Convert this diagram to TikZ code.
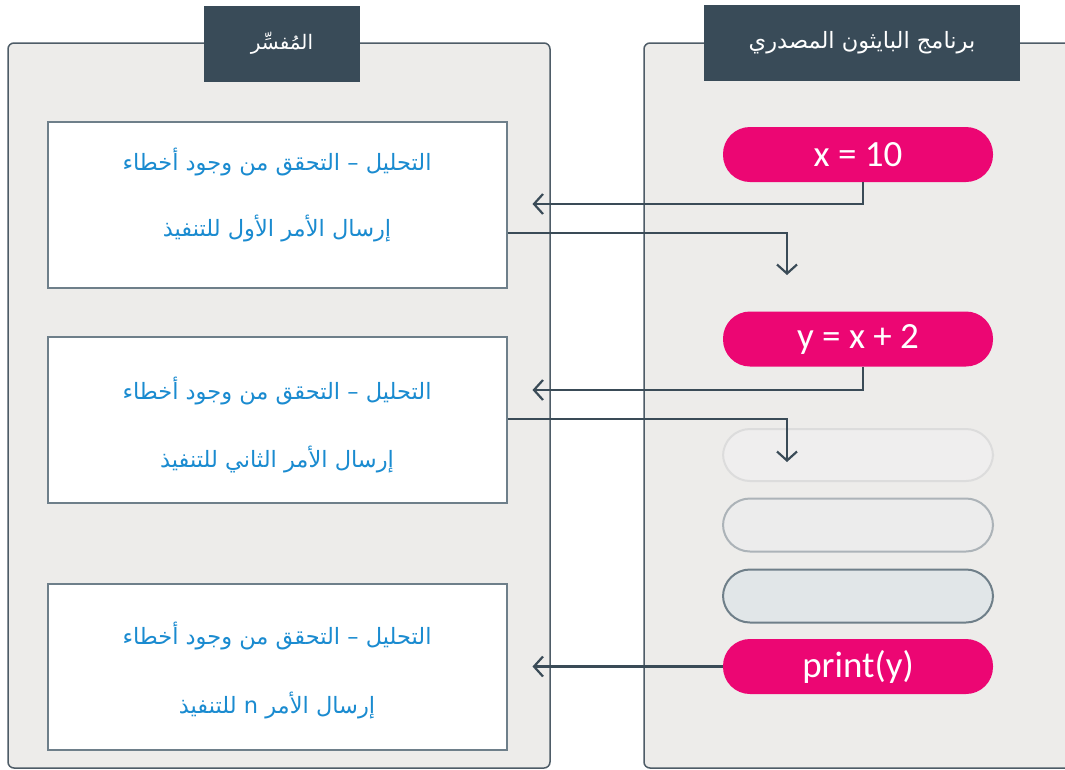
\documentclass[tikz,border=0pt]{standalone}
\usepackage{fontspec}
\setmainfont{Carlito}
\newfontfamily\arabicfont[Script=Arabic]{DejaVu Sans}
\TeXXeTstate=1
\usetikzlibrary{arrows.meta,calc}
\definecolor{slate}{HTML}{394B58}
\definecolor{panelfill}{HTML}{EDECEA}
\definecolor{panelline}{HTML}{4E5C67}
\definecolor{boxline}{HTML}{6E7F8A}
\definecolor{txtblue}{HTML}{1A8BD0}
\definecolor{magenta}{HTML}{EC0673}
\definecolor{connc}{HTML}{3A4B57}
\definecolor{g1fill}{HTML}{EFEEEE}
\definecolor{g1line}{HTML}{DCDCDC}
\definecolor{g2fill}{HTML}{ECECEC}
\definecolor{g2line}{HTML}{ACB3B8}
\definecolor{g3fill}{HTML}{E1E6E8}
\definecolor{g3line}{HTML}{6F7F89}
\tikzset{
  panel/.style={draw=panelline, fill=panelfill, line width=1.5pt, rounded corners=6pt},
  hdr/.style={fill=slate, text=white, inner sep=0pt, font=\arabicfont\fontsize{22.5}{26}\selectfont},
  txtbox/.style={draw=boxline, fill=white, line width=2pt, minimum width=459pt, minimum height=166pt, inner sep=0pt},
  atext/.style={text=txtblue, inner sep=0pt, font=\arabicfont\fontsize{22.5}{26}\selectfont},
  pill/.style={rounded corners=27pt, minimum width=270pt, minimum height=55pt, inner sep=0pt},
  codepill/.style={pill, fill=magenta, text=white, font=\fontsize{37}{40}\selectfont},
  conn/.style={draw=connc, line width=2.2pt, -{Straight Barb[length=9pt,width=20pt,line width=2.2pt]}},
}
\begin{document}
\begin{tikzpicture}[x=1pt,y=-1pt]
\useasboundingbox[fill=white] (0,0) rectangle (1065,769);
% panels
\draw[panel] (8,768) rectangle (550,43);
\draw[panel] (644,768) rectangle (1085,43);
% headers
\node[hdr, minimum width=156pt, minimum height=76pt, font=\arabicfont\fontsize{20}{24}\selectfont] (h1) at (282,43.5) {\beginR المُفسِّر\endR};
\node[hdr, minimum width=316pt, minimum height=76pt] (h2) at (862,43) {\beginR برنامج البايثون المصدري\endR};
% interpreter boxes
\node[txtbox] (b1) at (277,205) {};
\node[txtbox] (b2) at (277,420) {};
\node[txtbox] (b3) at (277,666.5) {};
\node[atext] (b1a) at (277,162) {\beginR التحليل – التحقق من وجود أخطاء\endR};
\node[atext] (b1b) at (277,229) {\beginR إرسال الأمر الأول للتنفيذ\endR};
\node[atext] (b2a) at (277,391) {\beginR التحليل – التحقق من وجود أخطاء\endR};
\node[atext] (b2b) at (277,459) {\beginR إرسال الأمر الثاني للتنفيذ\endR};
\node[atext] (b3a) at (277,636) {\beginR التحليل – التحقق من وجود أخطاء\endR};
\node[atext] (b3b) at (277,705) {\beginR إرسال الأمر \beginL n\endL{} للتنفيذ\endR};
% code pills
\node[codepill] (p1) at (858,154.5) {x = 10};
\node[codepill] (p2) at (858,339) {y = x + 2};
\node[pill, fill=g1fill, draw=g1line, line width=2pt, minimum height=52pt] (g1) at (858,455) {};
\node[pill, fill=g2fill, draw=g2line, line width=2pt, minimum height=53pt] (g2) at (858,525) {};
\node[pill, fill=g3fill, draw=g3line, line width=2pt, minimum height=53pt] (g3) at (858,596) {};
\node[codepill] (p4) at (858,666.5) {print(y)};
% connectors
\coordinate (t1) at (787,275);
\coordinate (t2) at (787,462);
\draw[conn] ($(p1.south)+(5,0)$) |- ($(b1.east)+(25,-1)$);
\draw[conn] ($(b1.east)+(0,28)$) -| (t1);
\draw[conn] ($(p2.south)+(5,0)$) |- ($(b2.east)+(25,-30)$);
\draw[conn] ($(b2.east)+(0,-1)$) -| (t2);
\draw[conn] (p4.west) -- ($(b3.east)+(25,0)$);
\end{tikzpicture}
\end{document}
